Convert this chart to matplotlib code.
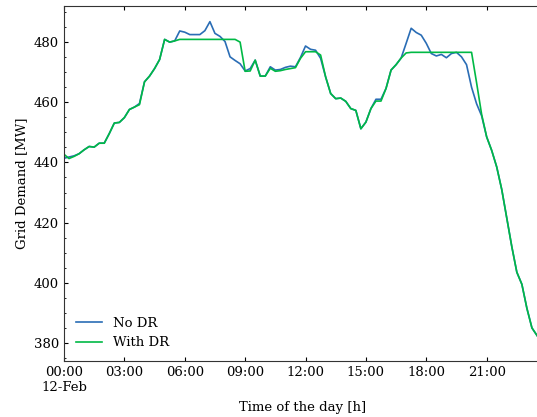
import numpy as np
import pandas as pd
import matplotlib
matplotlib.use("Agg")
import matplotlib.pyplot as plt
from matplotlib.ticker import MultipleLocator

# grid demand, 15 min steps on 12-Feb
no_dr = [441.4, 441.8, 442.2, 442.9, 444.2, 445.3, 445.1, 446.4, 446.4, 449.6,
         453.1, 453.3, 454.9, 457.6, 458.4, 459.6, 466.8, 468.7, 471.2, 474.2,
         480.9, 480.0, 480.4, 483.7, 483.3, 482.5, 482.5, 482.5, 483.8, 486.8,
         482.9, 481.9, 480.2, 475.1, 473.9, 472.8, 470.4, 471.2, 474.0, 468.7,
         468.7, 471.8, 470.7, 470.9, 471.6, 472.0, 471.8, 474.9, 478.7, 477.6,
         477.3, 474.6, 468.4, 462.9, 461.2, 461.4, 460.3, 457.9, 457.3, 451.2,
         453.4, 457.9, 461.0, 461.0, 464.6, 470.7, 472.5, 474.7, 479.6, 484.6,
         483.2, 482.3, 479.6, 476.2, 475.4, 475.9, 474.8, 476.2, 476.6, 475.1,
         472.5, 465.0, 459.5, 455.5, 448.5, 444.0, 438.5, 431.0, 421.5, 412.0,
         403.5, 399.5, 391.5, 385.0, 382.5, 380.0]

with_dr = [442.7, 441.3, 442.0, 442.9, 444.2, 445.3, 445.1, 446.4, 446.4, 449.6,
           453.1, 453.3, 454.9, 457.6, 458.4, 459.2, 466.8, 468.7, 471.2, 474.2,
           480.9, 480.0, 480.4, 480.9, 480.9, 480.9, 480.9, 480.9, 480.9, 480.9,
           480.9, 480.9, 480.9, 480.9, 480.9, 480.0, 470.3, 470.4, 474.0, 468.7,
           468.7, 471.3, 470.3, 470.5, 470.9, 471.2, 471.5, 474.6, 476.8, 476.8,
           476.8, 475.7, 468.4, 462.9, 461.2, 461.4, 460.3, 457.9, 457.3, 451.2,
           453.4, 457.9, 460.4, 460.4, 464.6, 470.7, 472.5, 474.7, 476.4, 476.6,
           476.6, 476.6, 476.6, 476.6, 476.6, 476.6, 476.6, 476.6, 476.6, 476.6,
           476.6, 476.6, 466.5, 456.0, 448.5, 444.0, 438.5, 431.0, 421.5, 412.0,
           403.5, 399.5, 391.5, 385.0, 382.5, 380.0]

times = pd.date_range("2023-02-12 00:00", periods=len(no_dr), freq="15min")
tick_times = pd.date_range("2023-02-12 00:00", periods=8, freq="3h")
tick_labels = ["00:00\n12-Feb", "03:00", "06:00", "09:00", "12:00", "15:00", "18:00", "21:00"]

plt.rcParams["font.family"] = "serif"
plt.rcParams["font.serif"] = ["DejaVu Serif"]
plt.rcParams["font.size"] = 9.5

fig = plt.figure(figsize=(5.37, 4.17), dpi=100)
# axes run a little past the right edge, like the reference crop
ax = fig.add_axes([64/537, 56/417, 478/537, 355/417])

ax.plot(times, no_dr, color="#2a6db5", lw=1.2, label="No DR")
ax.plot(times, with_dr, color="#00B945", lw=1.2, label="With DR")

ax.set_xlim(times[0], times[-1])
ax.set_ylim(374, 492)
ax.set_xticks(tick_times)
ax.set_xticklabels(tick_labels)
ax.yaxis.set_major_locator(MultipleLocator(20))
ax.yaxis.set_minor_locator(MultipleLocator(5))

ax.tick_params(which="both", direction="in", top=True, right=True)
ax.tick_params(which="major", length=3)
ax.tick_params(which="minor", length=1.5)
ax.tick_params(axis="x", which="minor", bottom=False, top=False)
for s in ax.spines.values():
    s.set_color("#333333")

ax.set_xlabel("Time of the day [h]", labelpad=5)
ax.set_ylabel("Grid Demand [MW]")
ax.legend(loc="lower left", frameon=False, handlelength=2.0)

fig.savefig("out.png", dpi=100)
